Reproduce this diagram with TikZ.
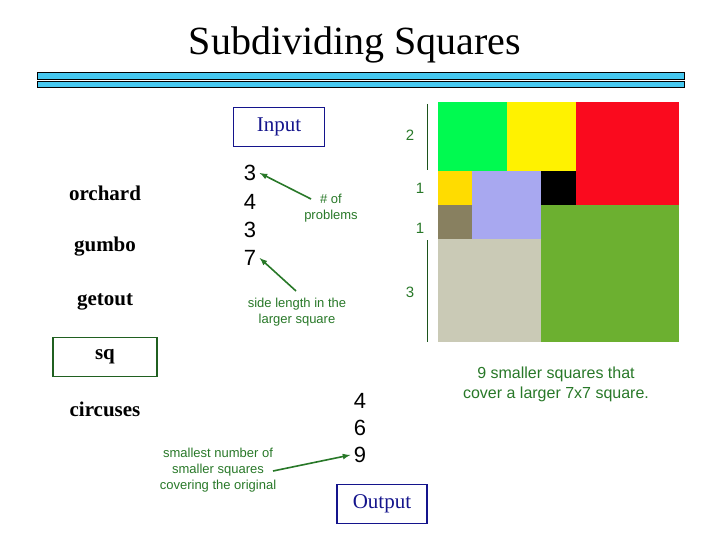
\documentclass[tikz,border=0pt]{standalone}
\usepackage{fontspec}
\setmainfont{Liberation Serif}
\setsansfont{Liberation Sans}
\definecolor{gtext}{RGB}{40,120,40}
\definecolor{navy}{RGB}{20,20,140}
\definecolor{barblue}{RGB}{70,200,240}
\definecolor{cgreen}{RGB}{0,250,80}
\definecolor{cred}{RGB}{250,10,30}
\definecolor{cyel}{RGB}{255,220,0}
\definecolor{clav}{RGB}{168,168,240}
\definecolor{cbrown}{RGB}{136,128,96}
\definecolor{cbeige}{RGB}{202,202,182}
\definecolor{colive}{RGB}{108,176,48}
\begin{document}
\begin{tikzpicture}[x=1pt,y=-1pt,
  word/.style={font=\fontsize{21}{23}\selectfont\bfseries},
  num/.style={font=\fontsize{22}{28}\selectfont\sffamily, align=center},
  note/.style={font=\fontsize{13}{16}\selectfont\sffamily, text=gtext, align=center},
  sidenum/.style={font=\fontsize{15}{18}\selectfont\sffamily, text=gtext},
  garrow/.style={draw=gtext, line width=1.6pt, -latex},
  box/.style={draw, line width=1.5pt, minimum height=39pt, inner sep=0pt}]
\useasboundingbox (0,0) rectangle (720,540);
\node (title) at (355,45) {\fontsize{40}{44}\selectfont Subdividing Squares};
\draw[fill=barblue, line width=0.8pt] (37,72) rectangle (684,79);
\draw[fill=barblue, line width=0.8pt] (37,81) rectangle (684,87);
\begin{scope}[shift={(438,102)}, x=34.4pt, y=-34.3pt]
\fill[cgreen] (0,0) rectangle (2,2);
\fill[yellow] (2,0) rectangle (4,2);
\fill[cred] (4,0) rectangle (7,3);
\fill[cyel] (0,2) rectangle (1,3);
\fill[clav] (1,2) rectangle (3,4);
\fill[black] (3,2) rectangle (4,3);
\fill[cbrown] (0,3) rectangle (1,4);
\fill[cbeige] (0,4) rectangle (3,7);
\fill[colive] (3,3) rectangle (7,7);
\end{scope}
\coordinate (l1a) at (427,104); \coordinate (l1b) at (427,170);
\coordinate (l2a) at (427,240); \coordinate (l2b) at (427,342);
\draw[gtext!70!black, line width=0.8pt] (l1a) -- (l1b);
\draw[gtext!70!black, line width=0.8pt] (l2a) -- (l2b);
\node[sidenum] (s2) at (410,135) {2};
\node[sidenum] (s1a) at (420,188) {1};
\node[sidenum] (s1b) at (420,228) {1};
\node[sidenum] (s3) at (410,292) {3};
\node[word] (w1) at (105,193) {orchard};
\node[word] (w2) at (105,247) {gumbo};
\node[word] (w3) at (105,302) {getout};
\node[word, box, draw=gtext!80!black, minimum width=104pt] (sq) at (105,357) {sq};
\node[word] (w5) at (105,409) {circuses};
\node[box, draw=navy, text=navy, minimum width=91pt, font=\fontsize{21}{23}\selectfont] (inp) at (279,127) {Input};
\node[num] (i1) at (250,173) {3};
\node[num] (i2) at (250,202) {4};
\node[num] (i3) at (250,230) {3};
\node[num] (i4) at (250,258) {7};
\node[note] (n1) at (331,208) {\# of\\problems};
\node[note] (n2) at (297,312) {side length in the\\larger square};
\coordinate (a1) at (311,199); \coordinate (a2) at (296,291);
\draw[garrow] (a1) -- (i1.east);
\draw[garrow] (a2) -- (i4.east);
\node[num] (o1) at (360,401) {4};
\node[num] (o2) at (360,428) {6};
\node[num] (o3) at (360,455) {9};
\node[box, draw=navy, text=navy, minimum width=90pt, font=\fontsize{21}{23}\selectfont] (out) at (382,504) {Output};
\node[note] (n3) at (218,470) {smallest number of\\smaller squares\\covering the original};
\coordinate (a3) at (273,471);
\draw[garrow] (a3) -- (o3.west);
\node[note, font=\fontsize{16}{20}\selectfont\sffamily] (n4) at (556,384) {9 smaller squares that\\cover a larger 7x7 square.};
\end{tikzpicture}
\end{document}
